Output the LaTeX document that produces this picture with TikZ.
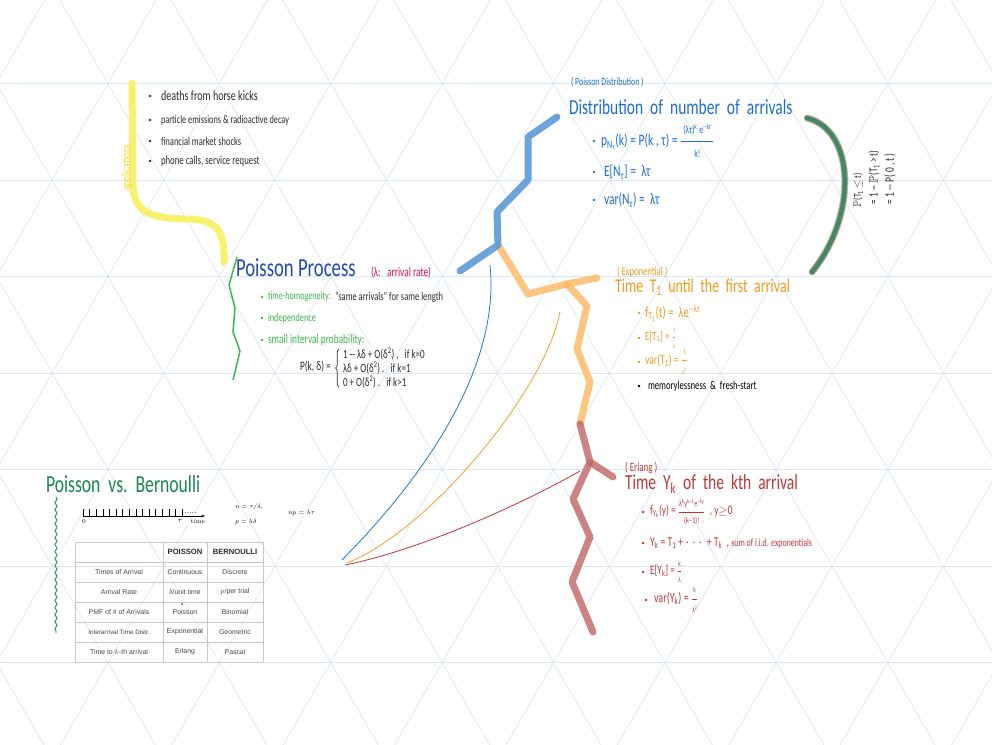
\documentclass[tikz,border=0pt]{standalone}
\usepackage{amsmath,amssymb}
\usepackage{fontspec}
\usetikzlibrary{decorations.pathmorphing,decorations.pathreplacing,arrows.meta}
\newfontfamily\hand{Carlito}[FakeStretch=0.72]
\newfontfamily\tabfont{Liberation Sans}
\newcommand\fs[1]{\fontsize{#1}{#1}\selectfont}
\newcommand\hfrac[3]{$\dfrac{\hbox{\fs{#1}#2}}{\hbox{\fs{#1}#3}}$}
\definecolor{gridc}{RGB}{216,230,246}
\definecolor{dgray}{RGB}{45,45,45}
\definecolor{ppblue}{RGB}{35,75,180}
\definecolor{pinkred}{RGB}{212,20,80}
\definecolor{bgreen}{RGB}{60,185,75}
\definecolor{dblue}{RGB}{30,110,210}
\definecolor{dorange}{RGB}{243,155,30}
\definecolor{dred}{RGB}{192,55,55}
\definecolor{dgreen}{RGB}{25,135,80}
\definecolor{ylw}{RGB}{248,240,95}
\definecolor{ylwtext}{RGB}{236,222,40}
\definecolor{brblue}{RGB}{75,145,212}
\definecolor{brorange}{RGB}{253,185,100}
\definecolor{brred}{RGB}{195,105,105}
\definecolor{teal}{RGB}{70,135,95}
\definecolor{tabline}{RGB}{200,200,200}
\definecolor{tabtext}{RGB}{70,70,70}
\begin{document}
\begin{tikzpicture}[x=1pt,y=-1pt,
  every node/.style={inner sep=0pt, outer sep=0pt},
  hw/.style={font=\hand, anchor=west},
  bul/.style={circle, inner sep=0pt, minimum size=2.6pt},
  branch/.style={line width=7pt, line cap=round, line join=round, opacity=0.82},
  fine/.style={line width=0.8pt},
  gridline/.style={draw=gridc, line width=0.6pt},
  tcell/.style={font=\tabfont\fs{6.9}, text=tabtext},
  thead/.style={font=\tabfont\bfseries\fs{7.6}, text=dgray}]
\useasboundingbox (0,0) rectangle (992,744);
\fill[white] (0,0) rectangle (992,744);
% background grid
\begin{scope}
\clip (0,0) rectangle (992,744);
\foreach \k in {-1,...,7} \draw[gridline] (-10,83.5+96.5*\k) -- (1002,83.5+96.5*\k);
\foreach \k in {-6,...,10} {
  \draw[gridline] ({275+111.4*\k+115.4},-20) -- ({275+111.4*\k-337},764);
  \draw[gridline] ({275+111.4*\k-115.4},-20) -- ({275+111.4*\k+337},764);
}
\end{scope}

% ---------- applications ----------
\coordinate (ya) at (132,83);
\coordinate (yb) at (133,186);
\coordinate (yc) at (185,219);
\coordinate (yd) at (224,262);
\draw[ylw, line width=7pt, line cap=round, opacity=0.9] (ya) -- (yb) .. controls (134,212) and (150,218) .. (yc) .. controls (215,219) and (225,228) .. (yd);
\node[font=\hand\fs{13}, text=ylwtext, rotate=90] (applab) at (127,168) {applications};
\foreach \y/\t/\s [count=\i] in {96/deaths from horse kicks/14,120/particle emissions \& radioactive decay/11.5,141/financial market shocks/11.8,161/{phone calls,\ service request}/12.2}{
  \node[bul, fill=dgray] (appd\i) at (150,\y) {};
  \node[hw, font=\hand\fs{\s}, text=dgray] (app\i) at (161,\y) {\t};
}

% ---------- Poisson process ----------
\coordinate (ga) at (237,257);
\coordinate (gb) at (229,285);
\coordinate (gc) at (235,308);
\coordinate (gd) at (233,332);
\coordinate (ge) at (240,351);
\coordinate (gf) at (233,380);
\draw[bgreen, line width=1.5pt, line join=round] (ga) -- (gb) -- (gc) -- (gd) -- (ge) -- (gf);
\node[hw, font=\hand\fs{26}, text=ppblue] (pp) at (236,268) {Poisson Process};
\node[hw, font=\hand\fs{13}, text=pinkred] (lam) at (371,273) {(λ:\ \ \ arrival rate)};
\node[bul, fill=bgreen] (ppd1) at (262,297) {};
\node[hw, font=\hand\fs{11.2}, text=bgreen] (pp1) at (268,297) {time-homogeneity:};
\node[hw, font=\hand\fs{11.8}, text=dgray] (pp1b) at (335,297) {“same arrivals” for same length};
\node[bul, fill=bgreen] (ppd2) at (262,318) {};
\node[hw, font=\hand\fs{11.5}, text=bgreen] (pp2) at (268,318) {independence};
\node[bul, fill=bgreen] (ppd3) at (262,340) {};
\node[hw, font=\hand\fs{13}, text=bgreen] (pp3) at (268,340) {small interval probability:};
\node[hw, font=\hand\fs{13}, text=dgray] (pk) at (300,367) {P(k, δ) =};
\coordinate (brb) at (339,387);
\coordinate (brt) at (339,349);
\draw[dgray, line width=0.7pt, decorate, decoration={brace, amplitude=3.5pt}] (brb) -- (brt);
\node[hw, font=\hand\fs{12.5}, text=dgray] (pk1) at (343,354) {1 -- λδ + O(δ\textsuperscript{2}) ,\ \ \ if k=0};
\node[hw, font=\hand\fs{12.5}, text=dgray] (pk2) at (343,368) {λδ + O(δ\textsuperscript{2}) .\ \ \ if k=1};
\node[hw, font=\hand\fs{12.5}, text=dgray] (pk3) at (343,382) {0 + O(δ\textsuperscript{2}) .\ \ \ if k>1};

% ---------- thin curves ----------
\coordinate (cs1) at (342,560);
\coordinate (cs2) at (347,563);
\coordinate (cs3) at (345,565);
\coordinate (ce1) at (490,265);
\coordinate (ce2) at (560,312);
\coordinate (ce3) at (580,471);
\draw[fine, draw={rgb,255:red,30;green,120;blue,215}] (cs1) .. controls (470,430) and (497,330) .. (ce1);
\draw[fine, draw={rgb,255:red,245;green,160;blue,40}] (cs2) .. controls (430,530) and (545,390) .. (ce2);
\draw[fine, draw={rgb,255:red,190;green,55;blue,55}] (cs3) .. controls (420,550) and (520,505) .. (ce3);

% ---------- branches ----------
\coordinate (b0) at (557,117);
\coordinate (b1) at (528,137);
\coordinate (b2) at (528,180);
\coordinate (b3) at (497,212);
\coordinate (b4) at (498,245);
\coordinate (b5) at (460,271);
\coordinate (o1) at (528,294);
\coordinate (o2) at (567,284);
\coordinate (o3) at (597,278);
\coordinate (o4) at (587,306);
\coordinate (o5) at (577,349);
\coordinate (o6) at (590,382);
\coordinate (o7) at (580,424);
\coordinate (r1) at (590,462);
\coordinate (r2) at (613,477);
\coordinate (r3) at (573,499);
\coordinate (r4) at (590,537);
\coordinate (r5) at (572,582);
\coordinate (r6) at (593,632);
\draw[branch, brorange] (b4) -- (o1) -- (o2) -- (o3);
\draw[branch, brorange] (o2) -- (o4) -- (o5) -- (o6) -- (o7);
\draw[branch, brred] (o7) -- (r1) -- (r2);
\draw[branch, brred] (r1) -- (r3) -- (r4) -- (r5) -- (r6);
\draw[branch, brblue] (b0) -- (b1) -- (b2) -- (b3) -- (b4) -- (b5);

% ---------- distribution of number of arrivals ----------
\node[hw, font=\hand\fs{11}, text=dblue] (pdlab) at (571,82) {( Poisson Distribution )};
\node[hw, font=\hand\fs{21.5}, text=dblue] (pdt) at (569,107) {Distribution\ \ of\ \ number\ \ of\ \ arrivals};
\node[bul, fill=dblue] (pdd1) at (594,141) {};
\node[hw, font=\hand\fs{16}, text=dblue] (pd1) at (601,141) {p\textsubscript{N\textsubscript{τ}}(k)\ = P(k , τ) = \hfrac{11}{\ (λτ)\textsuperscript{k} e\textsuperscript{--λτ}\ }{k!}};
\node[bul, fill=dblue] (pdd2) at (594,172) {};
\node[hw, font=\hand\fs{16}, text=dblue] (pd2) at (604,172) {E[N\textsubscript{τ}]\ = \ λτ};
\node[bul, fill=dblue] (pdd3) at (594,200) {};
\node[hw, font=\hand\fs{16}, text=dblue] (pd3) at (604,200) {var(N\textsubscript{τ})\ = \ λτ};

% right curve
\coordinate (ka) at (807,118);
\coordinate (kb) at (812,272);
\draw[line width=7pt, line cap=round, draw={rgb,255:red,245;green,190;blue,110}] (ka) .. controls (855,130) and (858,215) .. (kb);
\draw[line width=5.5pt, line cap=round, draw={rgb,255:red,95;green,155;blue,205}] (ka) .. controls (855,130) and (858,215) .. (kb);
\draw[line width=4pt, line cap=round, draw=teal] (ka) .. controls (855,130) and (858,215) .. (kb);
\node[font=\hand\fs{11}, text=dgray, rotate=90, anchor=west] (rp1) at (858,207) {$\mathbb{P}$(T\textsubscript{1} $\leq$ t)};
\node[font=\hand\fs{12.5}, text=dgray, rotate=90, anchor=west] (rp2) at (874,204) {= 1 -- $\mathbb{P}$(T\textsubscript{1} > t)};
\node[font=\hand\fs{13}, text=dgray, rotate=90, anchor=west] (rp3) at (890,204) {= 1 -- P( 0 , t )};

% ---------- exponential ----------
\node[hw, font=\hand\fs{12}, text=dorange] (exlab) at (617,272) {( Exponential )};
\node[hw, font=\hand\fs{19.5}, text=dorange] (ext) at (615,287) {Time\ \ T\textsubscript{1}\ \ until\ \ the\ \ first\ \ arrival};
\node[bul, fill=dorange] (exd1) at (639,313) {};
\node[hw, font=\hand\fs{15}, text=dorange] (ex1) at (645,313) {f\textsubscript{T\textsubscript{1}}(t)\ = \ λe\textsuperscript{--λt}};
\node[bul, fill=dorange] (exd2) at (639,338) {};
\node[hw, font=\hand\fs{12.5}, text=dorange] (ex2) at (645,338) {E[T\textsubscript{1}] = \hfrac{7}{1}{λ}};
\node[bul, fill=dorange] (exd3) at (639,362) {};
\node[hw, font=\hand\fs{13.5}, text=dorange] (ex3) at (645,362) {var(T\textsubscript{1})\ = \hfrac{7}{1}{λ\textsuperscript{2}}};
\node[bul, fill=black] (exd4) at (639,386) {};
\node[hw, font=\hand\fs{12}, text=black] (ex4) at (648,386) {memorylessness\ \ \&\ \ fresh-start};

% ---------- Erlang ----------
\node[hw, font=\hand\fs{12.5}, text=dred] (erlab) at (625,468) {( Erlang )};
\node[hw, font=\hand\fs{21.5}, text=dred] (ert) at (625,484) {Time\ \ Y\textsubscript{k}\ \ of\ \ the\ \ kth\ \ arrival};
\node[bul, fill=dred] (erd1) at (643,512) {};
\node[hw, font=\hand\fs{13}, text=dred] (er1) at (650,512) {f\textsubscript{Y\textsubscript{k}}(y) = \hfrac{8.5}{λ\textsuperscript{k}y\textsuperscript{k--1}e\textsuperscript{--λy}}{(k--1)!}\ \ ,\ y$\geq$0};
\node[bul, fill=dred] (erd2) at (643,543) {};
\node[hw, font=\hand\fs{13.5}, text=dred] (er2) at (650,543) {Y\textsubscript{k} = T\textsubscript{1} + $\cdots$ + T\textsubscript{k}\ \ ,\ {\fs{11}sum of i.i.d. exponentials}};
\node[bul, fill=dred] (erd3) at (643,572) {};
\node[hw, font=\hand\fs{13}, text=dred] (er3) at (650,572) {E[Y\textsubscript{k}] = \hfrac{7.5}{k}{λ}};
\node[bul, fill=dred] (erd4) at (646,600) {};
\node[hw, font=\hand\fs{14}, text=dred] (er4) at (654,600) {var(Y\textsubscript{k})\ = \hfrac{7.5}{k}{λ\textsuperscript{2}}};

% ---------- Poisson vs Bernoulli ----------
\node[hw, font=\hand\fs{24.5}, text=dgreen] (pvb) at (46,484) {Poisson\ \ vs.\ \ Bernoulli};
\coordinate (wa) at (56,497);
\coordinate (wb) at (56,633);
\draw[dgreen, line width=0.8pt, decorate, decoration={snake, amplitude=1.1pt, segment length=7pt}] (wa) -- (wb);
\coordinate (t0) at (83,516);
\coordinate (t1) at (205,516);
\draw[line width=0.5pt, -{Stealth[length=3.5pt,width=2.5pt]}] (t0) -- (t1);
\foreach \i in {0,...,15} \draw[line width=0.5pt] (83+6.6*\i,516) -- (83+6.6*\i,509);
\coordinate (dt0) at (185,512);
\coordinate (dt1) at (196,512);
\draw[gray, line width=0.4pt, dotted] (dt0) -- (dt1);
\node[font=\fs{6}] (l0) at (84,522) {0};
\node[font=\fs{7}] (ltau) at (180,521) {$\tau$};
\node[font=\fs{6}] (ltime) at (198,522) {time};
\node[font=\fs{6.5}, anchor=west] (nn) at (235,507) {$n=\tau/\delta,$};
\node[font=\fs{6.5}, anchor=west] (pd) at (235,522) {$p=\lambda\delta$};
\node[font=\fs{6.5}, anchor=west] (np) at (288,513) {$np=\lambda\tau$};

% table
\draw[tabline, line width=0.6pt] (75,542) rectangle (263,662);
\foreach \y in {562,582,602,622,642} \draw[tabline, line width=0.6pt] (75,\y) -- (263,\y);
\foreach \x in {163,207} \draw[tabline, line width=0.6pt] (\x,542) -- (\x,662);
\node[thead] (h2) at (185,552) {POISSON};
\node[thead] (h3) at (235,552) {BERNOULLI};
\foreach \y/\a/\b/\c [count=\i] in {572/Times of Arrival/Continuous/Discrete,
  592/Arrival Rate/{λ/unit time}/{$p$/per trial},
  612/PMF of \# of Arrivals/Poisson/Binomial,
  632/{\fs{6.3}Interarrival Time Distr.}/Exponential/Geometric,
  652/Time to $k$-th arrival/Erlang/Pascal}{
  \node[tcell] (c\i a) at (119,\y) {\a};
  \node[tcell] (c\i b) at (185,\y) {\b};
  \node[tcell] (c\i c) at (235,\y) {\c};
}
\node[circle, fill=red, minimum size=2pt] (rdot) at (182,604) {};
\end{tikzpicture}
\end{document}
